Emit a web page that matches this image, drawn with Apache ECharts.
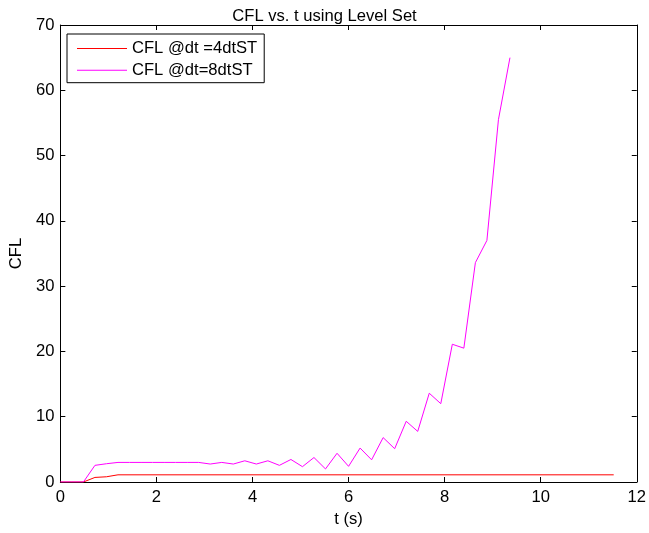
<!DOCTYPE html>
<html>
<head>
<meta charset="utf-8">
<script src="https://cdn.jsdelivr.net/npm/echarts@6/dist/echarts.min.js"></script>
<style>html,body{margin:0;padding:0;background:#fff;}#c{width:649px;height:533px;}</style>
</head>
<body>
<div id="c"></div>
<script>
const titleText = 'CFL vs. t using Level Set';
const seriesNames = ['CFL @dt =4dtST', 'CFL @dt=8dtST'];
const seriesColors = ['#ff0000', '#ff00ff'];
const xTicks = [0, 2, 4, 6, 8, 10, 12];
const yTicks = [0, 10, 20, 30, 40, 50, 60, 70];

const t4 = [0, 0.24, 0.48, 0.72, 0.96, 1.2, 11.52];
const cfl4 = [0, 0, 0, 0.7, 0.8, 1.1, 1.1];

const t8 = [0, 0.24, 0.48, 0.72, 0.96, 1.2, 1.44, 1.68, 1.92, 2.16, 2.4, 2.64, 2.88,
  3.12, 3.36, 3.6, 3.84, 4.08, 4.32, 4.56, 4.8, 5.04, 5.28, 5.52, 5.76, 6.0,
  6.24, 6.48, 6.72, 6.96, 7.2, 7.44, 7.68, 7.92, 8.16, 8.4, 8.64, 8.88, 9.12, 9.36];
const cfl8 = [0, 0, 0, 2.55, 2.8, 3.0, 3.0, 3.0, 3.0, 3.0, 3.0, 3.0, 3.0,
  2.75, 3.0, 2.75, 3.25, 2.75, 3.25, 2.55, 3.45, 2.35, 3.75, 2.0, 4.4, 2.4,
  5.2, 3.4, 6.8, 5.1, 9.3, 7.75, 13.6, 12.0, 21.1, 20.5, 33.6, 37.0, 55.5, 65.0];

const font = 'Liberation Sans';
const fsBig = 16.6;
function zip(a, b) { return a.map((v, i) => [v, b[i]]); }

const xBase = {
  type: 'value', min: xTicks[0], max: xTicks[xTicks.length - 1], interval: 2,
  splitLine: { show: false },
  axisLine: { show: true, onZero: false, lineStyle: { color: '#000', width: 1 } },
  axisTick: { show: true, inside: true, length: 5, lineStyle: { color: '#000' } }
};
const yBase = {
  type: 'value', min: yTicks[0], max: yTicks[yTicks.length - 1], interval: 10,
  splitLine: { show: false },
  axisLine: { show: true, onZero: false, lineStyle: { color: '#000', width: 1 } },
  axisTick: { show: true, inside: true, length: 5, lineStyle: { color: '#000' } }
};

const chart = echarts.init(document.getElementById('c'), null, { renderer: 'canvas' });
chart.setOption({
  animation: false,
  backgroundColor: '#fff',
  title: {
    text: titleText, left: 'center', top: 3,
    textStyle: { fontFamily: font, fontSize: fsBig, fontWeight: 'normal', color: '#000' }
  },
  grid: { left: 60, right: 12, top: 25, bottom: 50, containLabel: false },
  legend: {
    orient: 'vertical', left: 67, top: 34,
    itemWidth: 50, itemHeight: 1, itemGap: 4.7,
    padding: [6, 7, 4, 10],
    borderColor: '#000', borderWidth: 1, backgroundColor: '#fff',
    textStyle: { fontFamily: font, fontSize: fsBig, color: '#000', lineHeight: 17 },
    data: seriesNames.map((n, i) => ({ name: n, icon: 'rect', itemStyle: { color: seriesColors[i] } }))
  },
  xAxis: [
    Object.assign({}, xBase, {
      position: 'bottom', name: 't (s)', nameLocation: 'middle', nameGap: 29,
      nameTextStyle: { fontFamily: font, fontSize: fsBig, color: '#000' },
      axisLabel: { fontFamily: font, fontSize: fsBig, color: '#000', margin: 7 }
    }),
    Object.assign({}, xBase, { position: 'top', axisLabel: { show: false } })
  ],
  yAxis: [
    Object.assign({}, yBase, {
      position: 'left', name: 'CFL', nameLocation: 'middle', nameGap: 31,
      nameTextStyle: { fontFamily: font, fontSize: fsBig, color: '#000' },
      axisLabel: { fontFamily: font, fontSize: fsBig, color: '#000', margin: 6 }
    }),
    Object.assign({}, yBase, { position: 'right', axisLabel: { show: false } })
  ],
  series: [
    {
      name: seriesNames[0], type: 'line', data: zip(t4, cfl4),
      symbol: 'none', lineStyle: { color: seriesColors[0], width: 1 }, itemStyle: { color: seriesColors[0] }
    },
    {
      name: seriesNames[1], type: 'line', data: zip(t8, cfl8),
      symbol: 'none', lineStyle: { color: seriesColors[1], width: 1 }, itemStyle: { color: seriesColors[1] }
    }
  ]
});
</script>
</body>
</html>
